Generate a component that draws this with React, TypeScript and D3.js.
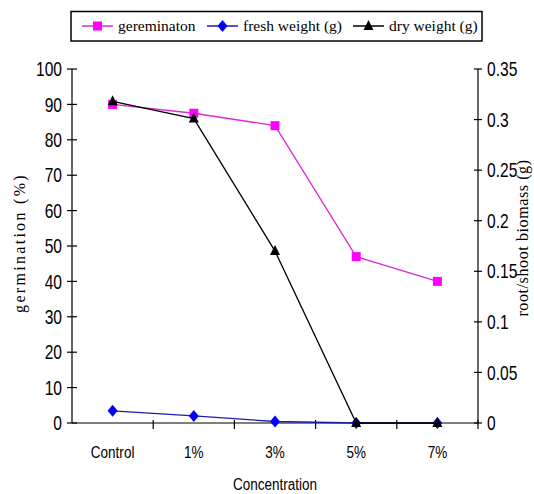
import { useEffect, useRef } from "react";
import * as d3 from "d3";

const categories = ["Control", "1%", "3%", "5%", "7%"];
const germination = [90, 87.5, 84, 47, 40];
const freshWeight = [0.012, 0.007, 0.0015, 0, 0];
const dryWeight = [0.318, 0.301, 0.17, 0, 0];
const leftTicks = [0, 10, 20, 30, 40, 50, 60, 70, 80, 90, 100];
const rightTicks = [0, 0.05, 0.1, 0.15, 0.2, 0.25, 0.3, 0.35];

const legendItems = [
  { label: "gereminaton", line: "#d62ad6", fill: "#ff00ff", shape: "square" },
  { label: "fresh weight (g)", line: "#1c1ca8", fill: "#0000ff", shape: "diamond" },
  { label: "dry weight (g)", line: "#000000", fill: "#000000", shape: "triangle" },
];

// no narrow font installed, so Liberation Sans gets squeezed horizontally
const SANS = "'Liberation Sans', Arial, sans-serif";
const SERIF = "'Liberation Serif', 'Times New Roman', serif";
const SQUEEZE = 0.78;

export default function App() {
  const svgRef = useRef<SVGSVGElement | null>(null);

  useEffect(() => {
    if (!svgRef.current) return;
    const svg = d3.select(svgRef.current);
    svg.selectAll("*").remove();

    const width = 534;
    const height = 494;
    const plot = { left: 72, right: 478, top: 69, bottom: 423 };

    svg.attr("width", width).attr("height", height);
    svg.append("rect").attr("width", width).attr("height", height).attr("fill", "#fff");

    const x = d3
      .scaleBand<string>()
      .domain(categories)
      .range([plot.left, plot.right]);
    const yLeft = d3.scaleLinear().domain([0, 100]).range([plot.bottom, plot.top]);
    const yRight = d3.scaleLinear().domain([0, 0.35]).range([plot.bottom, plot.top]);
    const cx = (c: string) => (x(c) ?? 0) + x.bandwidth() / 2;
    const squeeze = (px: number, py: number, k = SQUEEZE) => `translate(${px},${py}) scale(${k},1)`;

    // axes
    const axes = svg.append("g").attr("stroke", "#000").attr("stroke-width", 1.2);
    axes.append("line").attr("x1", plot.left).attr("x2", plot.left).attr("y1", plot.top).attr("y2", plot.bottom);
    axes.append("line").attr("x1", plot.right).attr("x2", plot.right).attr("y1", plot.top).attr("y2", plot.bottom);
    axes.append("line").attr("x1", plot.left).attr("x2", plot.right).attr("y1", plot.bottom).attr("y2", plot.bottom);

    axes
      .selectAll("line.lt")
      .data(leftTicks)
      .join("line")
      .attr("class", "lt")
      .attr("x1", plot.left - 5)
      .attr("x2", plot.left + 5)
      .attr("y1", (d) => yLeft(d))
      .attr("y2", (d) => yLeft(d));

    axes
      .selectAll("line.rt")
      .data(rightTicks)
      .join("line")
      .attr("class", "rt")
      .attr("x1", plot.right - 4)
      .attr("x2", plot.right + 4)
      .attr("y1", (d) => yRight(d))
      .attr("y2", (d) => yRight(d));

    const boundaries = categories.slice(1).map((c) => x(c) ?? 0).concat([plot.right]);
    axes
      .selectAll("line.xt")
      .data(boundaries)
      .join("line")
      .attr("class", "xt")
      .attr("x1", (d) => d)
      .attr("x2", (d) => d)
      .attr("y1", plot.bottom - 3)
      .attr("y2", plot.bottom + 6);

    svg
      .selectAll("text.lt")
      .data(leftTicks)
      .join("text")
      .attr("class", "lt")
      .attr("transform", (d) => squeeze(plot.left - 10, yLeft(d)))
      .attr("dy", "0.36em")
      .attr("text-anchor", "end")
      .attr("font-family", SANS)
      .attr("font-size", 20)
      .text((d) => String(d));

    svg
      .selectAll("text.rt")
      .data(rightTicks)
      .join("text")
      .attr("class", "rt")
      .attr("transform", (d) => squeeze(plot.right + 9, yRight(d)))
      .attr("dy", "0.36em")
      .attr("font-family", SANS)
      .attr("font-size", 20)
      .text((d) => d3.format("~g")(d));

    svg
      .selectAll("text.cat")
      .data(categories)
      .join("text")
      .attr("class", "cat")
      .attr("transform", (d) => squeeze(cx(d), 458, 0.82))
      .attr("text-anchor", "middle")
      .attr("font-family", SANS)
      .attr("font-size", 16.5)
      .text((d) => d);

    svg
      .append("text")
      .attr("transform", squeeze((plot.left + plot.right) / 2, 490, 0.82))
      .attr("text-anchor", "middle")
      .attr("font-family", SANS)
      .attr("font-size", 16.5)
      .text("Concentration");

    svg
      .append("text")
      .attr("transform", "translate(25,243) rotate(-90)")
      .attr("text-anchor", "middle")
      .attr("font-family", SERIF)
      .attr("font-size", 16)
      .attr("letter-spacing", 2.3)
      .text("germination (%)");

    svg
      .append("text")
      .attr("transform", "translate(528,238) rotate(-90)")
      .attr("text-anchor", "middle")
      .attr("font-family", SERIF)
      .attr("font-size", 16)
      .attr("letter-spacing", 0.6)
      .text("root/shoot biomass (g)");

    const drawMarker = (
      g: d3.Selection<SVGGElement, unknown, null, undefined>,
      shape: string,
      px: number,
      py: number,
      fill: string,
    ) => {
      if (shape === "square") {
        g.append("rect").attr("x", px - 4.5).attr("y", py - 4.5).attr("width", 9).attr("height", 9).attr("fill", fill);
      } else if (shape === "diamond") {
        g.append("path").attr("d", `M${px},${py - 6}L${px + 5},${py}L${px},${py + 6}L${px - 5},${py}Z`).attr("fill", fill);
      } else {
        g.append("path").attr("d", `M${px},${py - 6}L${px + 5},${py + 4}L${px - 5},${py + 4}Z`).attr("fill", fill);
      }
    };

    const series = [
      { values: germination, scale: yLeft, ...legendItems[0] },
      { values: freshWeight, scale: yRight, ...legendItems[1] },
      { values: dryWeight, scale: yRight, ...legendItems[2] },
    ];

    series.forEach((s) => {
      const g = svg.append("g");
      const pts = s.values.map((v, i) => [cx(categories[i]), s.scale(v)] as [number, number]);
      g.append("path")
        .attr("d", d3.line()(pts))
        .attr("fill", "none")
        .attr("stroke", s.line)
        .attr("stroke-width", 1.3);
      pts.forEach(([px, py]) => drawMarker(g, s.shape, px, py, s.fill));
    });

    // legend
    const legend = svg.append("g");
    legend
      .append("rect")
      .attr("x", 71)
      .attr("y", 11.5)
      .attr("width", 411)
      .attr("height", 29.5)
      .attr("fill", "#fff")
      .attr("stroke", "#000")
      .attr("stroke-width", 1.5);
    const entryX = [82, 207, 353];
    legendItems.forEach((item, i) => {
      const g = legend.append("g");
      const x0 = entryX[i];
      g.append("line")
        .attr("x1", x0)
        .attr("x2", x0 + 31)
        .attr("y1", 26)
        .attr("y2", 26)
        .attr("stroke", item.line)
        .attr("stroke-width", 1.5);
      drawMarker(g, item.shape, x0 + 15.5, 26, item.fill);
      g.append("text")
        .attr("x", x0 + 36)
        .attr("y", 26)
        .attr("dy", "0.33em")
        .attr("font-family", SERIF)
        .attr("font-size", 15.5)
        .text(item.label);
    });
  }, []);

  return <svg ref={svgRef} style={{ position: "absolute", left: 0, top: 0 }} />;
}
